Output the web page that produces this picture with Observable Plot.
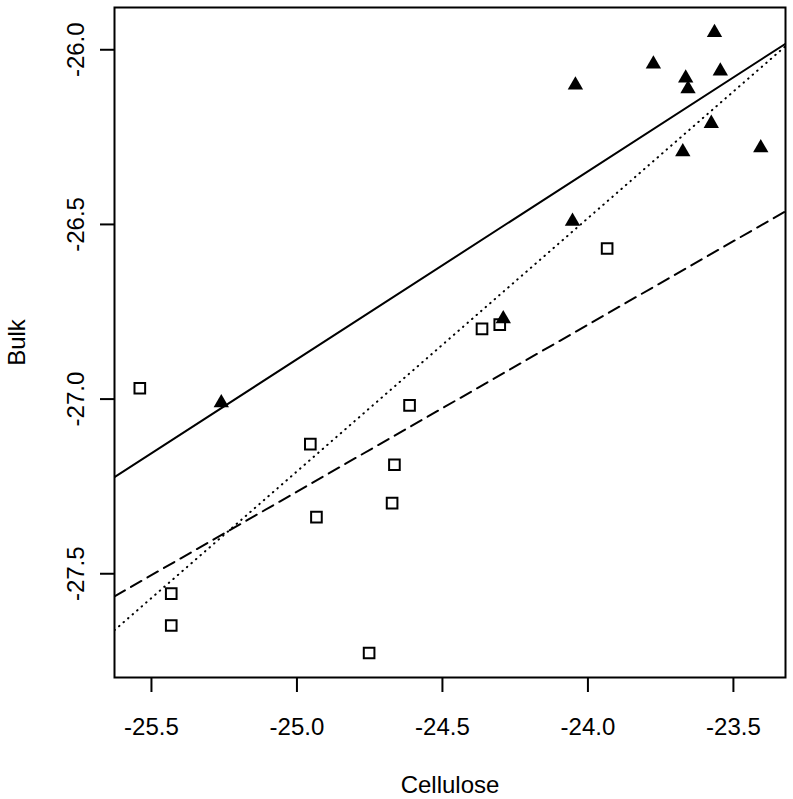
<!DOCTYPE html>
<html>
<head>
<meta charset="utf-8">
<script src="https://cdn.jsdelivr.net/npm/d3@7"></script>
<script src="https://cdn.jsdelivr.net/npm/@observablehq/plot@0.6"></script>
<style>
  html, body { margin: 0; padding: 0; background: white; }
</style>
</head>
<body>
<div id="chart"></div>
<script>
// Open squares
const squareX = [-25.540, -25.432, -25.432, -24.954, -24.933, -24.665, -24.673, -24.613, -24.752, -23.934, -24.364, -24.303];
const squareY = [-26.969, -27.557, -27.648, -27.129, -27.338, -27.188, -27.298, -27.018, -27.727, -26.569, -26.799, -26.787];
// Filled triangles
const triX = [-25.260, -23.565, -23.775, -24.043, -23.664, -23.656, -23.545, -23.576, -23.674, -23.406, -24.053, -24.291];
const triY = [-27.011, -25.951, -26.041, -26.101, -26.081, -26.112, -26.061, -26.211, -26.292, -26.281, -26.491, -26.770];
// Fitted lines: y = a + b * x
const lineNames = ["solid", "dashed", "dotted"];
const lineIntercepts = [-13.436, -15.315, -9.082];
const lineSlopes = [0.538, 0.478, 0.725];
const lineDash = {solid: null, dashed: "12,7", dotted: "0.5,5.5"};
// Axes
const xTicks = [-25.5, -25.0, -24.5, -24.0, -23.5];
const yTicks = [-26.0, -26.5, -27.0, -27.5];
const xDomain = [-25.627, -23.321];
const yDomain = [-27.797, -25.879];
const xLabel = "Cellulose";
const yLabel = "Bulk";

const fmt = d => d.toFixed(1);
const squares = squareX.map((x, i) => ({x, y: squareY[i]}));
const tris = triX.map((x, i) => ({x, y: triY[i]}));
const lineData = lineNames.flatMap((name, i) =>
  xDomain.map(x => ({name, x, y: lineIntercepts[i] + lineSlopes[i] * x})));

const plot = Plot.plot({
  width: 793,
  height: 799,
  marginLeft: 114,
  marginRight: 8,
  marginTop: 7,
  marginBottom: 122,
  style: {fontFamily: "'Liberation Sans', Arial, Helvetica, sans-serif", fontSize: "24px", background: "white", color: "black"},
  x: {domain: xDomain},
  y: {domain: yDomain},
  marks: [
    ...lineNames.map(name => Plot.line(lineData.filter(d => d.name === name), {
      x: "x", y: "y", stroke: "black", strokeWidth: 2,
      strokeDasharray: lineDash[name], strokeLinecap: "round", clip: true
    })),
    Plot.dot(squares, {x: "x", y: "y", symbol: "square", r: 6, stroke: "black", strokeWidth: 2, fill: "white", fillOpacity: 0}),
    Plot.dot(tris, {x: "x", y: "y", symbol: "triangle", r: 5.7, fill: "black", stroke: "none"}),
    Plot.frame({stroke: "black", strokeWidth: 2}),
    Plot.axisX({ticks: xTicks, tickSize: 15, tickPadding: 25, tickFormat: fmt, strokeWidth: 2, fontSize: 24, label: null}),
    Plot.axisY({ticks: yTicks, tickSize: 14, tickFormat: () => "", strokeWidth: 2, label: null}),
    Plot.text(yTicks, {y: d => d, text: fmt, frameAnchor: "left", dx: -31, rotate: -90, lineAnchor: "bottom", textAnchor: "middle", fontSize: 24}),
    Plot.text([yLabel], {text: d => d, frameAnchor: "left", dx: -90, rotate: -90, lineAnchor: "bottom", textAnchor: "middle", fontSize: 24}),
    Plot.text([xLabel], {text: d => d, frameAnchor: "bottom", dy: 115, lineAnchor: "bottom", textAnchor: "middle", fontSize: 24})
  ]
});
document.getElementById("chart").appendChild(plot);
</script>
</body>
</html>
